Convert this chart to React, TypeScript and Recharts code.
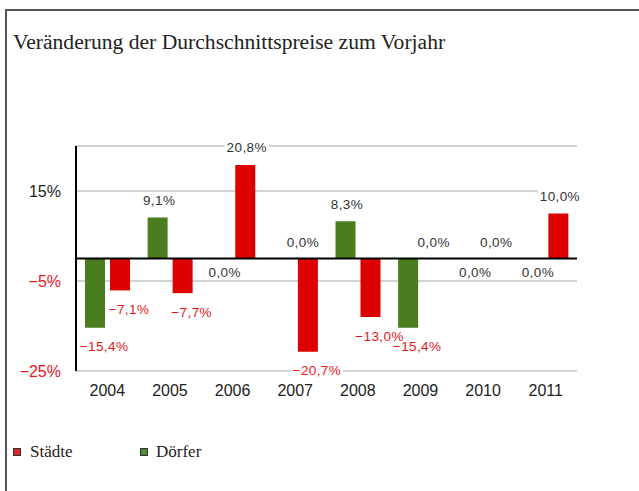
import React from 'react';
import { BarChart, Bar, XAxis, YAxis, CartesianGrid, ReferenceLine, LabelList } from 'recharts';

const years = ['2004', '2005', '2006', '2007', '2008', '2009', '2010', '2011'];
const staedte = [-7.1, -7.7, 20.8, -20.7, -13.0, 0.0, 0.0, 10.0];
const doerfer = [-15.4, 9.1, 0.0, 0.0, 8.3, -15.4, 0.0, 0.0];
const yTicks = [-25, -5, 15];

const seriesInfo = [
  { key: 'staedte', name: 'Städte', color: '#dd0000', legendColor: '#d42a2a' },
  { key: 'doerfer', name: 'Dörfer', color: '#4a7d1e', legendColor: '#4b8b3b' },
];

const data = years.map((year, i) => ({ year, staedte: staedte[i], doerfer: doerfer[i] }));

const SANS = '"Liberation Sans", Arial, sans-serif';
const SERIF = '"Liberation Serif", "Times New Roman", serif';
const RED_TEXT = '#e8161b';

const fmt = (v: number) => {
  const s = Math.abs(v).toFixed(1).replace('.', ',') + '%';
  return v < 0 ? '\u2212' + s : s;
};

const charW: Record<string, number> = { ',': 3.61, '%': 11.56, '\u2212': 7.59 };
const textWidth = (s: string, spacing: number, scale: number) =>
  s.split('').reduce((a, c) => a + (charW[c] ?? 7.23) * scale + spacing, 0);

const makeLabel = (series: 'staedte' | 'doerfer') => (props: any) => {
  const { x, y, width, height, value, index } = props;
  const v = Number(value);
  const h = Number(height) || 0;
  const top = Math.min(y, y + h);
  const bottom = Math.max(y, y + h);
  const cx = x + width / 2;
  const zeroish = Math.abs(v) < 1e-9;
  let tx = cx;
  let ty = top;
  if (!zeroish && v > 0) {
    ty = top - 17.5;
    tx = cx + 1.5;
  } else if (!zeroish && v < 0) {
    ty = bottom + 18.7;
    tx = cx + 9;
  } else if (series === 'staedte') {
    ty = bottom - 16.4;
    tx = cx + 0.5;
  } else if (staedte[index] < 0) {
    ty = bottom - 16.4;
    tx = cx + 20;
  } else {
    ty = bottom + 13.6;
    tx = cx + 4.5;
  }
  const label = fmt(zeroish ? 0 : v);
  const w = textWidth(label, 0.4, 13.5 / 13);
  return (
    <g>
      <rect x={tx - w / 2 - 2} y={ty - 6} width={w + 4} height={12} fill="#fff" />
      <text
        x={tx}
        y={ty}
        dy="0.36em"
        textAnchor="middle"
        fontFamily={SANS}
        fontSize={13.5}
        letterSpacing={0.4}
        fill={!zeroish && v < 0 ? RED_TEXT : '#333'}
      >
        {label}
      </text>
    </g>
  );
};

const YTick = (props: any) => {
  const { x, y, payload } = props;
  const v = Number(payload.value);
  return (
    <text x={x} y={y} dy="0.355em" textAnchor="end" fontFamily={SANS} fontSize={16} fill={v < 0 ? RED_TEXT : '#222'}>
      {fmt(v).replace(',0', '')}
    </text>
  );
};

const XTick = (props: any) => {
  const { x, y, payload } = props;
  return (
    <text x={x} y={y} dy="0.71em" textAnchor="middle" fontFamily={SANS} fontSize={16} fill="#222">
      {payload.value}
    </text>
  );
};

const tinyForZero = (v: any) => (Number(v) === 0 ? 0.001 : 0);

export default function App() {
  return (
    <div style={{ position: 'absolute', left: 0, top: 0, width: 639, height: 491, overflow: 'hidden', background: '#fff' }}>
      <div
        style={{
          position: 'absolute',
          left: 5,
          top: 9,
          width: 700,
          height: 600,
          borderTop: '2px solid #555',
          borderLeft: '2px solid #555',
        }}
      />
      <div
        style={{
          position: 'absolute',
          left: 13,
          top: 32,
          fontFamily: SERIF,
          fontSize: 21.6,
          lineHeight: '21px',
          color: '#222',
          whiteSpace: 'nowrap',
        }}
      >
        Veränderung der Durchschnittspreise zum Vorjahr
      </div>
      <div style={{ position: 'absolute', left: 0, top: 0 }}>
        <BarChart
          width={639}
          height={491}
          data={data}
          margin={{ top: 146, right: 62, bottom: 90, left: 16 }}
          barSize={20}
          barGap={5}
        >
          <CartesianGrid vertical={false} stroke="#c4c4c4" strokeWidth={1.5} />
          <XAxis
            dataKey="year"
            axisLine={false}
            tickLine={false}
            tickSize={0}
            tickMargin={14}
            height={30}
            tick={<XTick />}
            interval={0}
          />
          <YAxis
            width={60}
            domain={[-25, 25]}
            ticks={yTicks}
            axisLine={{ stroke: '#000', strokeWidth: 2 }}
            tickLine={false}
            tickSize={0}
            tickMargin={15}
            tick={<YTick />}
            allowDataOverflow
          />
          <Bar dataKey="doerfer" name="Dörfer" fill={seriesInfo[1].color} minPointSize={tinyForZero} isAnimationActive={false}>
            <LabelList dataKey="doerfer" content={makeLabel('doerfer')} />
          </Bar>
          <Bar dataKey="staedte" name="Städte" fill={seriesInfo[0].color} minPointSize={tinyForZero} isAnimationActive={false}>
            <LabelList dataKey="staedte" content={makeLabel('staedte')} />
          </Bar>
          <ReferenceLine y={0} stroke="#000" strokeWidth={2} />
        </BarChart>
      </div>
      {seriesInfo.map((s, i) => (
        <React.Fragment key={s.key}>
          <div
            style={{
              position: 'absolute',
              left: 13 + i * 126.5,
              top: 448,
              width: 6,
              height: 6,
              background: s.legendColor,
              border: '1px solid #333',
            }}
          />
          <div
            style={{
              position: 'absolute',
              left: 30 + i * 126,
              top: 443,
              fontFamily: SERIF,
              fontSize: 17,
              lineHeight: '17px',
              color: '#222',
              whiteSpace: 'nowrap',
            }}
          >
            {s.name}
          </div>
        </React.Fragment>
      ))}
    </div>
  );
}
